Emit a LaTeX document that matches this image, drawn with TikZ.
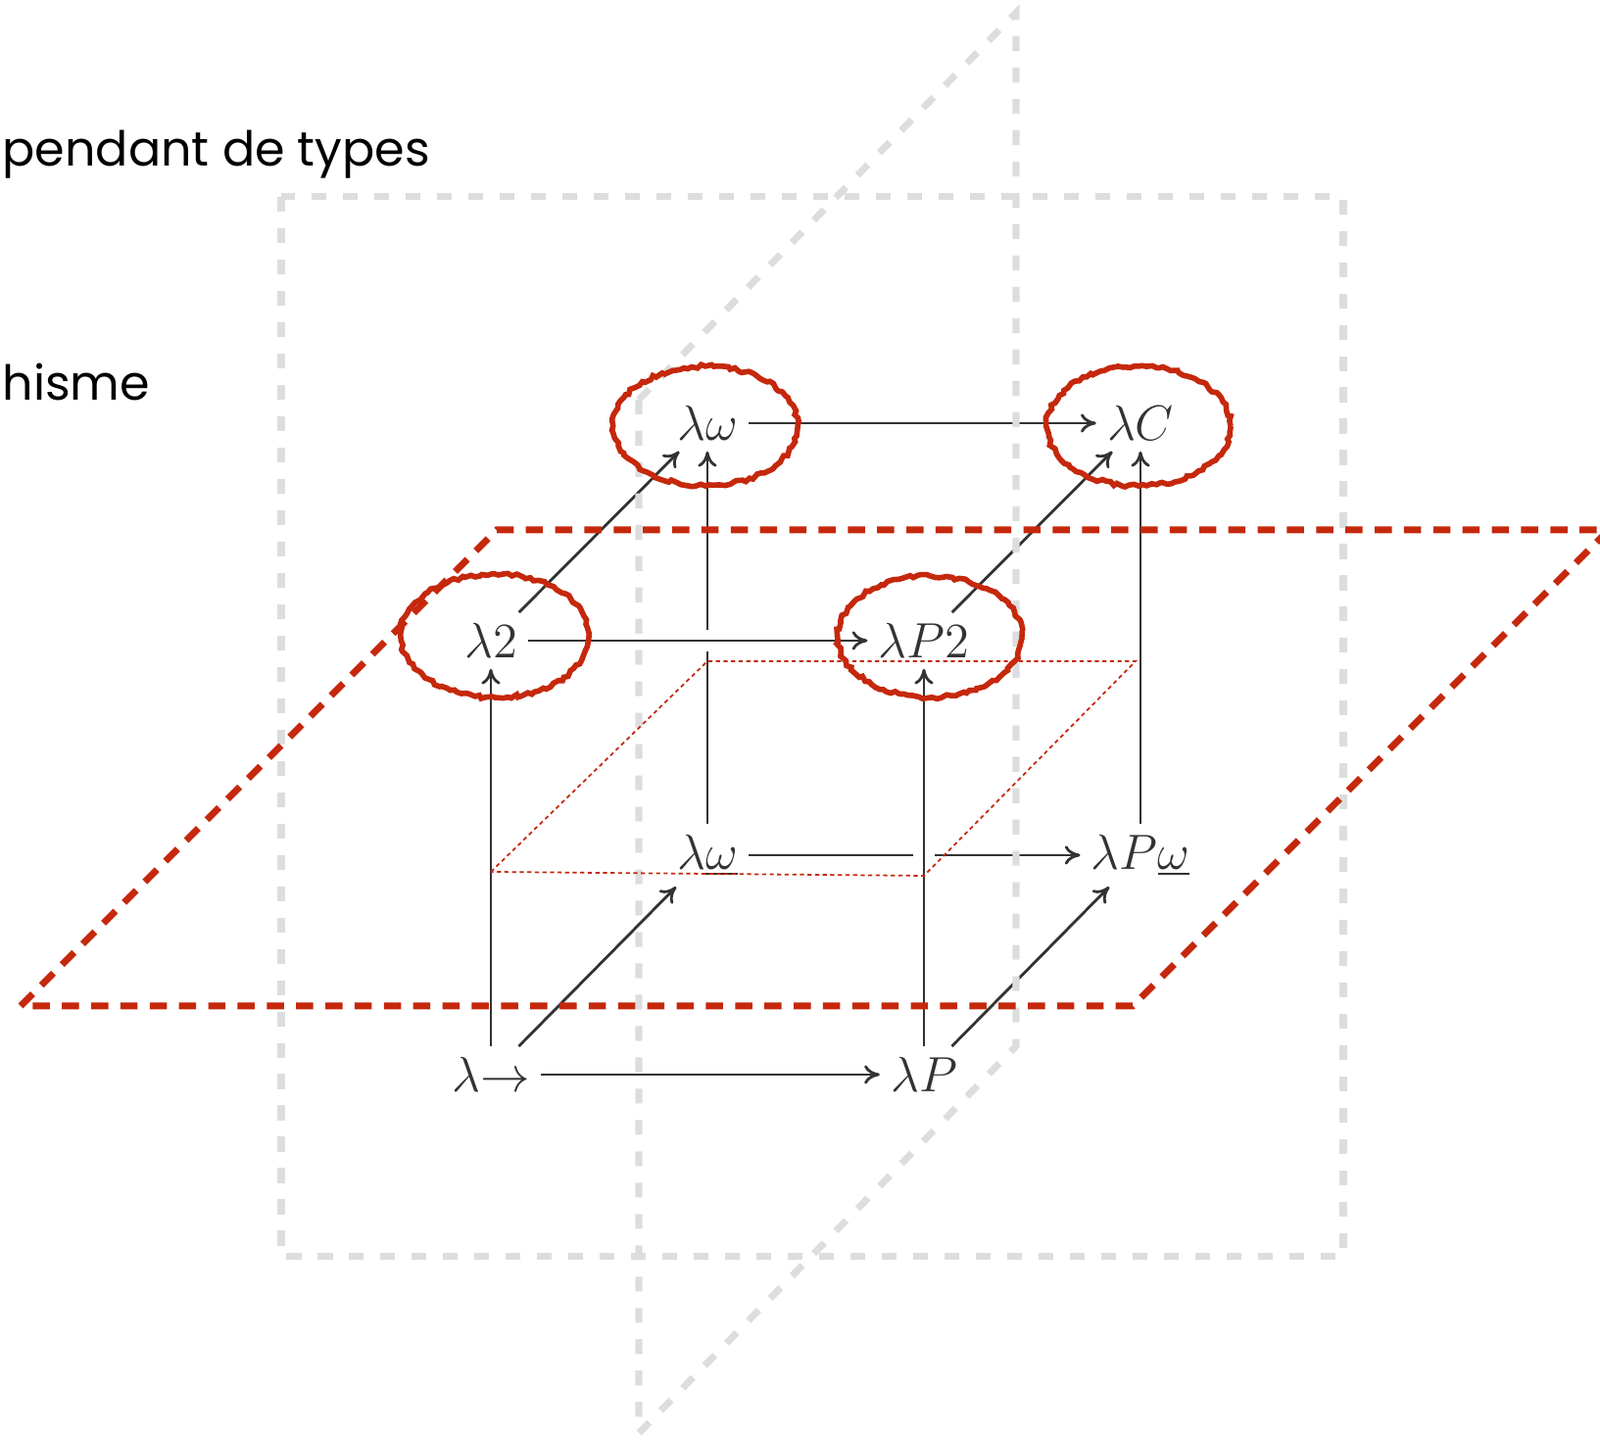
\documentclass[tikz,border=0pt]{standalone}
\usepackage{fontspec}
\newfontfamily\slidefont{Poppins}
\usetikzlibrary{arrows.meta,decorations.pathmorphing}
\definecolor{slidered}{HTML}{C5280C}
\definecolor{planegray}{HTML}{DCDDDF}
\definecolor{cubegray}{HTML}{333333}

\begin{document}
\begin{tikzpicture}[font=\fontsize{14.2}{16}\selectfont,
  sys/.style={text=cubegray, inner sep=3pt},
  slidetext/.style={anchor=base west, inner sep=0pt, font=\slidefont\fontsize{14}{17}\selectfont},
  arr/.style={draw=cubegray, line width=0.8pt, -{To[length=4.5pt,width=5.5pt]}},
  over/.style={preaction={draw=white, line width=6pt, -}},
  plane/.style={draw=planegray, line width=2pt, dash pattern=on 4.3pt off 4.8pt},
  cut/.style={draw=slidered, line width=2pt, dash pattern=on 5pt off 3.5pt},
  slice/.style={draw=slidered, line width=0.5pt, dash pattern=on 1.2pt off 1pt},
  hl/.style={draw=slidered, line width=1.6pt, decorate, decoration={random steps, segment length=1.2pt, amplitude=0.5pt}}]
\useasboundingbox (0,0) rectangle (16.33,14.70);

% slide text
\node[slidetext] (dep) at (0.02,13.00) {pendant de types};
\node[slidetext] (poly) at (0.02,10.61) {hisme};

% the cube
\node[sys] (lto) at (5.01,3.73) {$\lambda{\to}$};
\node[sys] (lP) at (9.43,3.73) {$\lambda P$};
\node[sys] (l2) at (5.01,8.16) {$\lambda 2$};
\node[sys] (lP2) at (9.43,8.16) {$\lambda P2$};
\node[sys] (lwu) at (7.22,5.97) {$\lambda\underline{\omega}$};
\node[sys] (lPwu) at (11.64,5.97) {$\lambda P\underline{\omega}$};
\node[sys] (lw) at (7.22,10.38) {$\lambda\omega$};
\node[sys] (lC) at (11.64,10.38) {$\lambda C$};

\draw[arr] (lto) -- (lP);
\draw[arr] (lto) -- (l2);
\draw[arr] (lto) -- (lwu);
\draw[arr] (lP) -- (lPwu);
\draw[arr] (lwu) -- (lPwu);
\draw[arr] (lwu) -- (lw);
\draw[arr, over] (lP) -- (lP2);
\draw[arr, over] (l2) -- (lP2);
\draw[arr] (l2) -- (lw);
\draw[arr] (lP2) -- (lC);
\draw[arr] (lPwu) -- (lC);
\draw[arr] (lw) -- (lC);

% gray planes
\draw[plane] (2.87,12.69) rectangle (13.71,1.87);
\draw[plane] (6.52,10.62) -- (10.37,14.57) -- (10.37,4.02) -- (6.52,0.07) -- cycle;

% red planes
\draw[cut] (0.21,4.43) -- (5.07,9.29) -- (16.42,9.29) -- (11.56,4.43) -- cycle;
\draw[slice] (5.01,5.80) -- (7.22,7.95) -- (11.59,7.95) -- (9.43,5.76) -- cycle;

% circled systems
\draw[hl] (7.20,10.35) ellipse [x radius=0.94, y radius=0.61];
\draw[hl] (11.62,10.35) ellipse [x radius=0.94, y radius=0.61];
\draw[hl] (5.05,8.21) ellipse [x radius=0.96, y radius=0.63];
\draw[hl] (9.49,8.20) ellipse [x radius=0.94, y radius=0.62];
\end{tikzpicture}
\end{document}
